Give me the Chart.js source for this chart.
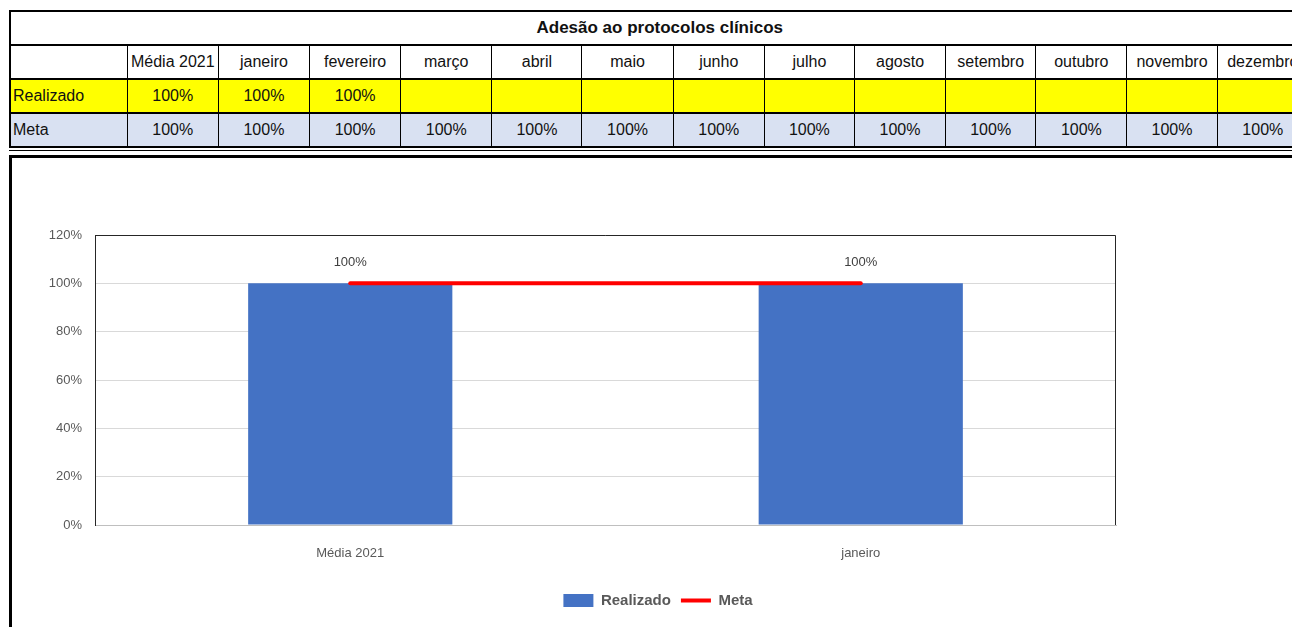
<!DOCTYPE html>
<html>
<head>
<meta charset="utf-8">
<script src="https://cdn.jsdelivr.net/npm/chart.js@4.4.1/dist/chart.umd.min.js"></script>
<style>
    html, body { margin: 0; padding: 0; background: #fff; overflow: hidden; width: 1292px; height: 627px; }
    body { position: relative; font-family: "Liberation Sans", sans-serif; }
    #tabela { position: absolute; left: 9px; top: 10px; border-collapse: collapse; table-layout: fixed; width: 1300px; }
    #tabela td { border: 1px solid #000; border-top-width: 2px; border-bottom-width: 2px; height: 32px; padding: 0; font-size: 16px; text-align: center; white-space: nowrap; overflow: hidden; color: #111; }
    #tabela td.nome { text-align: left; padding-left: 2px; }
    #tabela td.titulo { font-weight: bold; font-size: 17px; border-left-width: 2px; border-right: none; }
    #tabela tr.real td { background: #ffff00; }
    #tabela tr.meta td { background: #d9e1f2; }
    #tabela td:first-child { border-left-width: 2px; }
    #linha { position: absolute; left: 9px; top: 150px; width: 1290px; border-top: 1px solid #000; }
    #caixa { position: absolute; left: 9px; top: 155px; width: 1290px; height: 480px; border-top: 3px solid #000; border-left: 3px solid #000; }
    #grafico { position: absolute; left: 0; top: 0; }
</style>
</head>
<body>
<table id="tabela">
    <colgroup id="cols"></colgroup>
    <tbody id="corpo"></tbody>
</table>
<div id="linha"></div>
<div id="caixa"><canvas id="grafico" width="1280" height="469"></canvas></div>
<script>
var titulo = "Adesão ao protocolos clínicos";
var colunas = ["Média 2021", "janeiro", "fevereiro", "março", "abril", "maio", "junho", "julho", "agosto", "setembro", "outubro", "novembro", "dezembro"];
var realizadoTabela = [1, 1, 1, null, null, null, null, null, null, null, null, null, null];
var metaTabela = [1, 1, 1, 1, 1, 1, 1, 1, 1, 1, 1, 1, 1];

// o grafico so mostra as duas primeiras colunas
var categorias = ["Média 2021", "janeiro"];
var realizado = [1, 1];
var meta = [1, 1];

var larguras = [117, 91, 91, 91, 91, 90, 91, 91, 90, 91, 90, 91, 90, 91];

function pct(v) {
    if (v == null) return "";
    return Math.round(v * 100) + "%";
}

function montaTabela() {
    var cols = document.getElementById("cols");
    larguras.forEach(function (w) {
        var c = document.createElement("col");
        c.style.width = w + "px";
        cols.appendChild(c);
    });
    var corpo = document.getElementById("corpo");
    var html = '<tr><td class="titulo" colspan="' + (colunas.length + 1) + '">' + titulo + '</td></tr>';
    html += '<tr><td class="nome"></td>' + colunas.map(function (c) { return '<td>' + c + '</td>'; }).join('') + '</tr>';
    html += '<tr class="real"><td class="nome">Realizado</td>' + realizadoTabela.map(function (v) { return '<td>' + pct(v) + '</td>'; }).join('') + '</tr>';
    html += '<tr class="meta"><td class="nome">Meta</td>' + metaTabela.map(function (v) { return '<td>' + pct(v) + '</td>'; }).join('') + '</tr>';
    corpo.innerHTML = html;
}
montaTabela();

var fonte = '"Liberation Sans", sans-serif';

// rotulos "100%" em cima das barras
var rotulosBarras = {
    id: 'rotulosBarras',
    afterDatasetsDraw: function (chart) {
        var ctx = chart.ctx;
        var metaBar = chart.getDatasetMeta(1);
        ctx.save();
        ctx.font = '13px ' + fonte;
        ctx.fillStyle = '#404040';
        ctx.textAlign = 'center';
        ctx.textBaseline = 'middle';
        metaBar.data.forEach(function (bar, i) {
            ctx.fillText(pct(realizado[i]), bar.x, bar.y - 21);
        });
        ctx.restore();
    }
};

// borda de cima e da direita da area do grafico
var bordaArea = {
    id: 'bordaArea',
    beforeDatasetsDraw: function (chart) {
        var a = chart.chartArea;
        var ctx = chart.ctx;
        ctx.save();
        ctx.strokeStyle = '#262626';
        ctx.lineWidth = 1;
        ctx.beginPath();
        ctx.moveTo(a.left, a.top + 0.5);
        ctx.lineTo(a.right - 0.5, a.top + 0.5);
        ctx.lineTo(a.right - 0.5, a.bottom);
        ctx.stroke();
        ctx.restore();
    }
};

var grafico = new Chart(document.getElementById("grafico"), {
    type: 'bar',
    data: {
        labels: categorias,
        datasets: [{
                type: 'line',
                label: 'Meta',
                data: meta,
                borderColor: '#ff0000',
                backgroundColor: '#ff0000',
                borderWidth: 4,
                borderCapStyle: 'round',
                pointRadius: 0,
                pointStyle: 'line',
                order: 0
            },
            {
                type: 'bar',
                label: 'Realizado',
                data: realizado,
                backgroundColor: '#4472c4',
                borderWidth: 0,
                categoryPercentage: 1,
                barPercentage: 0.4,
                pointStyle: 'rect',
                order: 1
            }
        ]
    },
    options: {
        responsive: false,
        animation: false,
        layout: {
            padding: { left: 12, right: 0, top: 77, bottom: 9 }
        },
        plugins: {
            legend: {
                position: 'bottom',
                reverse: true,
                labels: {
                    usePointStyle: true,
                    pointStyleWidth: 30,
                    boxHeight: 13,
                    padding: 10,
                    color: '#595959',
                    font: { family: fonte, size: 15, weight: 'bold' }
                }
            },
            tooltip: { enabled: false }
        },
        scales: {
            x: {
                grid: { display: false, drawTicks: false },
                border: { color: '#bfbfbf', width: 1 },
                ticks: { color: '#595959', padding: 21, font: { family: fonte, size: 13 } },
                afterFit: function (s) { s.height = 58; }
            },
            y: {
                min: 0,
                max: 1.2,
                grid: { color: '#d9d9d9', drawTicks: false },
                border: { color: '#262626', width: 1 },
                ticks: {
                    stepSize: 0.2,
                    color: '#595959',
                    padding: 13,
                    font: { family: fonte, size: 13 },
                    callback: function (v) { return Math.round(v * 100) + '%'; }
                },
                afterFit: function (s) { s.width = 71; }
            },
            // eixo vazio a direita, so para reservar o espaco em branco
            vazio: {
                position: 'right',
                display: true,
                grid: { display: false, drawTicks: false },
                border: { display: false },
                ticks: { display: false },
                afterFit: function (s) { s.width = 176; }
            }
        }
    },
    plugins: [rotulosBarras, bordaArea]
});
</script>
</body>
</html>
